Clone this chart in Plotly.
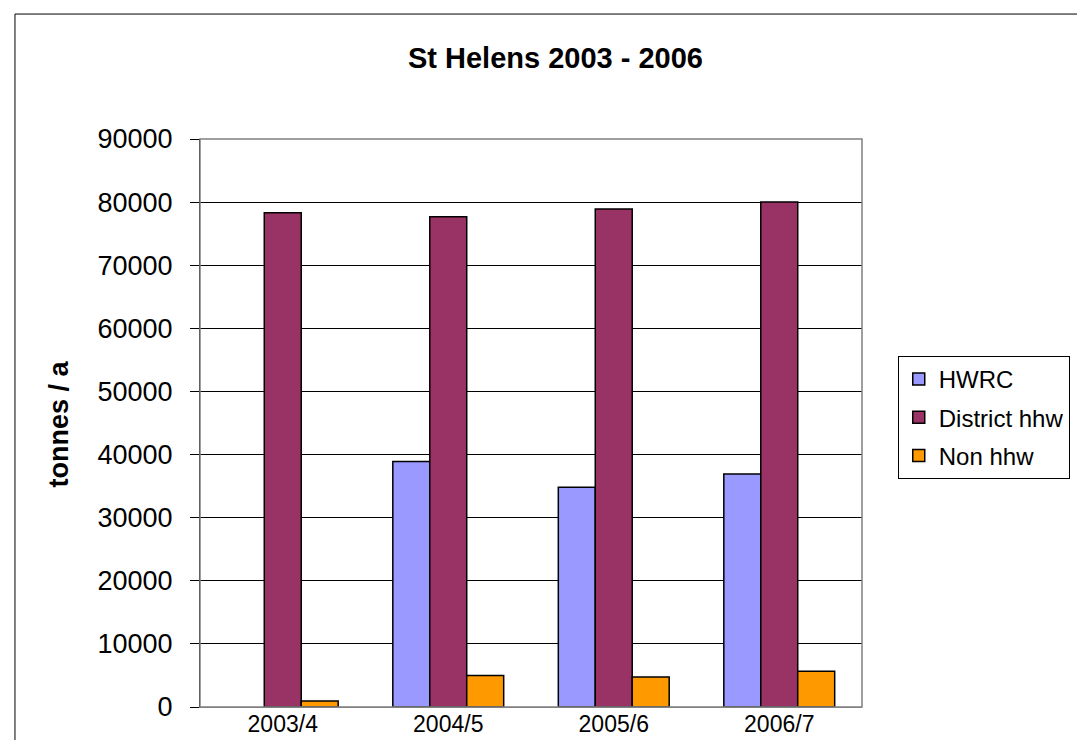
import plotly.graph_objects as go

years = ["2003/4", "2004/5", "2005/6", "2006/7"]
hwrc = [None, 38900, 34800, 36900]  # no bar drawn for 2003/4
district_hhw = [78300, 77700, 78900, 80000]
non_hhw = [950, 5000, 4750, 5650]

FONT = "Liberation Sans, Arial, sans-serif"

fig = go.Figure()
for name, vals, color in [
    ("HWRC", hwrc, "#9999ff"),
    ("District hhw", district_hhw, "#993366"),
    ("Non hhw", non_hhw, "#ff9900"),
]:
    fig.add_trace(go.Bar(
        x=years, y=vals, name=name, legendgroup=name,
        marker=dict(color=color, line=dict(color="black", width=1.5)),
    ))

# outer chart frame
fig.add_shape(type="rect", xref="paper", yref="paper",
              x0=-0.2795, x1=1.334, y0=-0.1, y1=1.22,
              line=dict(color="black", width=1), layer="below")
# plot area frame
fig.add_shape(type="rect", xref="paper", yref="paper",
              x0=0, x1=1, y0=0, y1=1,
              line=dict(color="#808080", width=1.5))

fig.add_annotation(text="<b>tonnes / a</b>", xref="paper", yref="paper",
                   x=-0.238, y=0.498, textangle=-90, showarrow=False,
                   font=dict(size=27))

fig.update_layout(
    width=1085, height=740,
    margin=dict(l=192, r=231, t=131, b=41, autoexpand=False),
    paper_bgcolor="white", plot_bgcolor="white",
    barmode="group", bargap=0.33, bargroupgap=0,
    font=dict(family=FONT, color="black"),
    title=dict(text="<b>St Helens 2003 - 2006</b>", xref="paper", x=0.537,
               xanchor="center", y=0.932, yanchor="middle", font=dict(size=29)),
    legend=dict(x=1.054, y=0.618, xanchor="left", yanchor="top",
                bordercolor="black", borderwidth=1, font=dict(size=24),
                tracegroupgap=4),
    showlegend=True,
)
fig.update_yaxes(
    range=[0, 90000], dtick=10000, tickformat="d", automargin=False,
    showgrid=True, gridcolor="black", gridwidth=1,
    showline=True, linecolor="black", ticks="outside", ticklen=9, tickcolor="black",
    ticklabelstandoff=12, tickfont=dict(size=27), zeroline=False,
)
fig.update_xaxes(
    automargin=False, ticklabelstandoff=-4,
    showline=True, linecolor="#808080", tickfont=dict(size=23), ticks="",
)

fig.write_html("out.html")
